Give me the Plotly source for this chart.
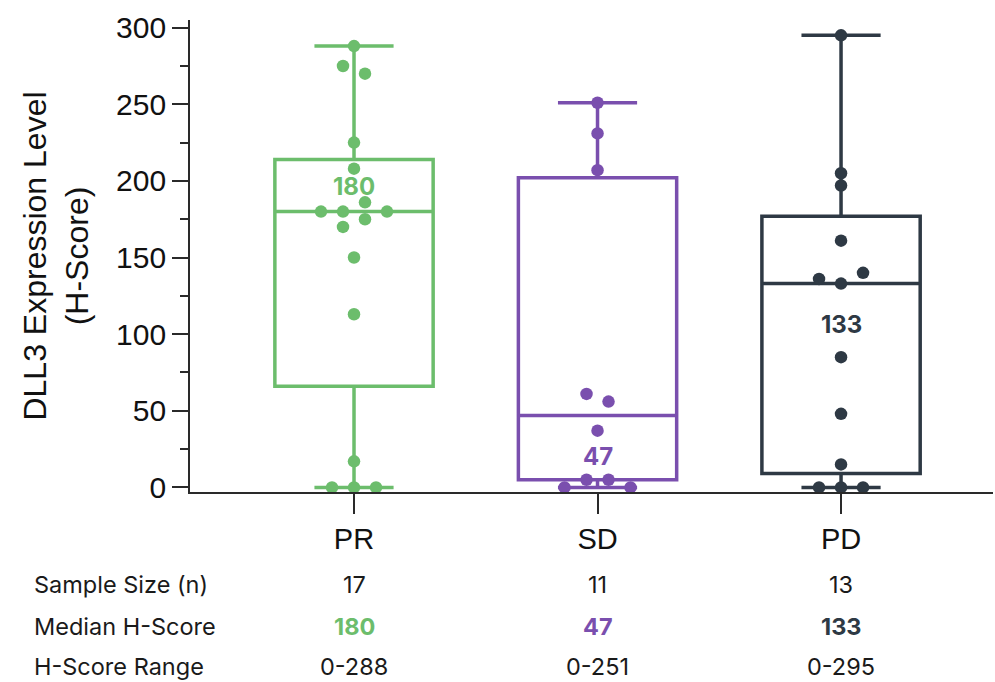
import plotly.graph_objects as go

# ---- data -------------------------------------------------------------
categories = ["PR", "SD", "PD"]

pr_scores = [288, 275, 270, 225, 208, 180, 180, 186, 180, 170, 175, 150, 113, 17, 0, 0, 0]
sd_scores = [251, 231, 207, 61, 56, 37, 0, 5, 5, 0]
pd_scores = [295, 205, 197, 161, 136, 133, 140, 85, 48, 15, 0, 0, 0]

q1 = [66, 5, 9]
medians = [180, 47, 133]
q3 = [214, 202, 177]
lower_fence = [0, 0, 0]
upper_fence = [288, 251, 295]

row_labels = ["Sample Size (n)", "Median H-Score", "H-Score Range"]
sample_sizes = ["17", "11", "13"]
score_ranges = ["0-288", "0-251", "0-295"]

colors = ["#6cbd6c", "#7a4fae", "#2e3944"]

# ---- layout geometry ---------------------------------------------------
W, H = 995, 682
M_L, M_R, M_T, M_B = 190, 2, 20, 190
Y_RANGE = [-3, 305]
X_RANGE = [-0.6735, 2.624]
PLOT_W = W - M_L - M_R
PLOT_H = H - M_T - M_B
PX_PER_X = PLOT_W / (X_RANGE[1] - X_RANGE[0])
PX_PER_Y = PLOT_H / (Y_RANGE[1] - Y_RANGE[0])


def swarm_offsets(values, row_px=11.5, step_px=22.0):
    """Bin points into horizontal rows and spread each row symmetrically."""
    order = sorted(range(len(values)), key=lambda i: (-values[i], i))
    rows = []
    for i in order:
        if rows and (values[rows[-1][0]] - values[i]) * PX_PER_Y <= row_px:
            rows[-1].append(i)
        else:
            rows.append([i])
    offsets = [0.0] * len(values)
    for row in rows:
        row = sorted(row)
        n = len(row)
        for k, i in enumerate(row):
            offsets[i] = (k - (n - 1) / 2) * step_px / PX_PER_X
    return offsets


def paper_x(px):
    return (px - M_L) / PLOT_W


def paper_y(px):
    return (H - M_B - px) / PLOT_H


fig = go.Figure()

groups = [pr_scores, sd_scores, pd_scores]
for i, (name, scores) in enumerate(zip(categories, groups)):
    fig.add_trace(go.Box(
        x=[i], q1=[q1[i]], median=[medians[i]], q3=[q3[i]],
        lowerfence=[lower_fence[i]], upperfence=[upper_fence[i]],
        width=0.65, whiskerwidth=0.5,
        line=dict(color=colors[i], width=3.5),
        fillcolor="rgba(255,255,255,0)",
        boxpoints=False, showlegend=False, hoverinfo="skip", name=name,
    ))
    offs = swarm_offsets(scores)
    fig.add_trace(go.Scatter(
        x=[i + o for o in offs], y=scores, mode="markers",
        marker=dict(color=colors[i], size=12.5, line=dict(width=0)),
        showlegend=False, cliponaxis=False, name=name,
    ))

# median value labels inside the boxes
label_shift = [25, -41, -41]
for i, m in enumerate(medians):
    fig.add_annotation(
        x=i, y=m, yshift=label_shift[i], text=f"<b>{m}</b>", showarrow=False,
        font=dict(family="Inter, Open Sans, sans-serif", size=24, color=colors[i]),
    )

# summary table beneath the axis
row_px = [584, 626, 666]
table_font = "Inter, Open Sans, sans-serif"
for r, label in enumerate(row_labels):
    fig.add_annotation(
        xref="paper", yref="paper", x=paper_x(32), y=paper_y(row_px[r]),
        xanchor="left", yanchor="middle", text=label, showarrow=False,
        font=dict(family=table_font, size=23.5, color="#1a1a1a"),
    )
for i in range(len(categories)):
    cells = [
        (sample_sizes[i], "#1a1a1a", False),
        (str(medians[i]), colors[i], True),
        (score_ranges[i], "#1a1a1a", False),
    ]
    for r, (txt, col, bold) in enumerate(cells):
        fig.add_annotation(
            x=i, xref="x", yref="paper", y=paper_y(row_px[r]),
            yanchor="middle", text=f"<b>{txt}</b>" if bold else txt,
            showarrow=False,
            font=dict(family=table_font, size=23.5, color=col),
        )

axis_color = "#2a2a2a"
fig.update_layout(
    width=W, height=H,
    margin=dict(l=M_L, r=M_R, t=M_T, b=M_B),
    paper_bgcolor="white", plot_bgcolor="white",
    font=dict(family="Liberation Sans, Arial, sans-serif", color="#111111"),
    xaxis=dict(
        range=X_RANGE, tickvals=[0, 1, 2], ticktext=categories,
        showline=True, linecolor=axis_color, linewidth=1.8,
        ticks="outside", ticklen=20, tickwidth=1.8, tickcolor=axis_color,
        showgrid=False, zeroline=False,
        tickfont=dict(size=29, color="#111111"),
    ),
    yaxis=dict(
        range=Y_RANGE, tickvals=[0, 50, 100, 150, 200, 250, 300],
        showline=True, linecolor=axis_color, linewidth=1.8,
        ticks="outside", ticklen=16, tickwidth=1.8, tickcolor=axis_color,
        minor=dict(tickvals=[25, 75, 125, 175, 225, 275], ticks="outside",
                   ticklen=8, tickwidth=1.8, tickcolor=axis_color),
        showgrid=False, zeroline=False,
        tickfont=dict(size=30, color="#111111"),
        title=dict(text="DLL3 Expression Level<br>(H-Score)",
                   font=dict(size=32, color="#111111"), standoff=18),
    ),
)

fig.write_html("out.html")
